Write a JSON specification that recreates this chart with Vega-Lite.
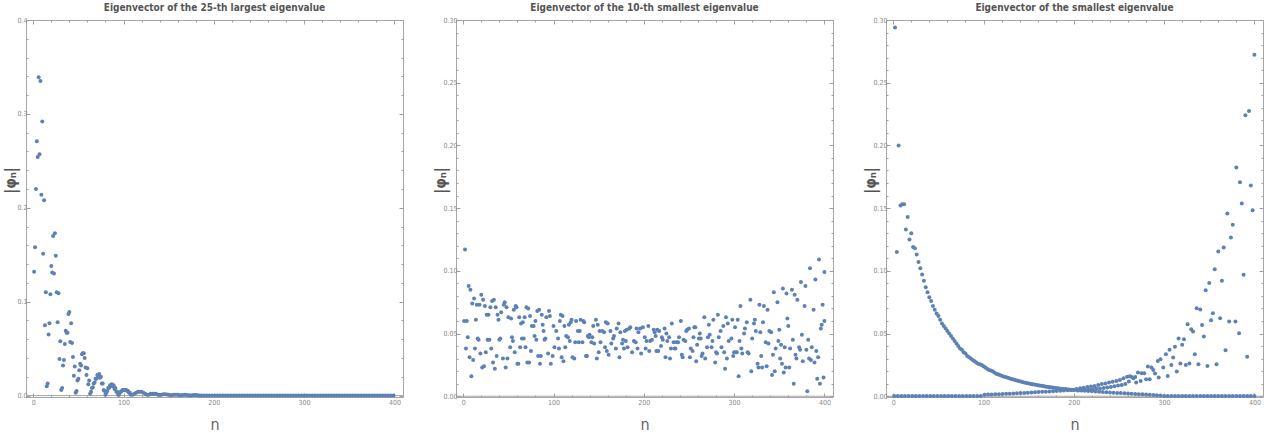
{
"$schema":"https://vega.github.io/schema/vega-lite/v6.json",
"padding":{"left":2,"top":2,"right":6,"bottom":2},
"background":"white",
"config":{
 "view":{"stroke":"#a6a6a6","strokeWidth":1},
 "axis":{"domain":false,"grid":false,"tickColor":"#a0a0a0","labelColor":"#8a8a8a","labelFont":"DejaVu Sans Condensed, DejaVu Sans, sans-serif","labelFontSize":7,"labelOverlap":false,"labelFlush":false,"titleColor":"#555555","titleFont":"DejaVu Sans Condensed, DejaVu Sans, sans-serif"},
 "title":{"font":"DejaVu Sans Condensed, DejaVu Sans, sans-serif","fontSize":10,"fontWeight":"bold","color":"#555555","frame":"group","offset":3}
},
"datasets":{
"a":[{"n":1,"v":0.132},{"n":2,"v":0.158},{"n":3,"v":0.22},{"n":4,"v":0.271},{"n":5,"v":0.254},{"n":6,"v":0.339},{"n":7,"v":0.257},{"n":8,"v":0.335},{"n":9,"v":0.214},{"n":10,"v":0.292},{"n":11,"v":0.151},{"n":12,"v":0.208},{"n":13,"v":0.075},{"n":14,"v":0.11},{"n":15,"v":0.01},{"n":16,"v":0.013},{"n":17,"v":0.065},{"n":18,"v":0.077},{"n":19,"v":0.108},{"n":20,"v":0.138},{"n":21,"v":0.131},{"n":22,"v":0.17},{"n":23,"v":0.13},{"n":24,"v":0.173},{"n":25,"v":0.149},{"n":26,"v":0.11},{"n":27,"v":0.078},{"n":28,"v":0.109},{"n":29,"v":0.039},{"n":30,"v":0.058},{"n":31,"v":0.006},{"n":32,"v":0.008},{"n":33,"v":0.032},{"n":34,"v":0.038},{"n":35,"v":0.055},{"n":36,"v":0.069},{"n":37,"v":0.067},{"n":38,"v":0.067},{"n":39,"v":0.087},{"n":40,"v":0.089},{"n":41,"v":0.057},{"n":42,"v":0.077},{"n":43,"v":0.056},{"n":44,"v":0.041},{"n":45,"v":0.021},{"n":46,"v":0.031},{"n":47,"v":0.003},{"n":48,"v":0.005},{"n":49,"v":0.016},{"n":50,"v":0.018},{"n":51,"v":0.027},{"n":52,"v":0.034},{"n":53,"v":0.032},{"n":54,"v":0.044},{"n":55,"v":0.045},{"n":56,"v":0.045},{"n":57,"v":0.04},{"n":58,"v":0.03},{"n":59,"v":0.022},{"n":60,"v":0.029},{"n":61,"v":0.012},{"n":62,"v":0.016},{"n":63,"v":0.002},
{"n":64,"v":0.004},{"n":65,"v":0.008},{"n":66,"v":0.009},{"n":67,"v":0.013},{"n":68,"v":0.014},{"n":69,"v":0.018},{"n":70,"v":0.018},{"n":71,"v":0.022},{"n":72,"v":0.02},{"n":73,"v":0.023},{"n":74,"v":0.019},{"n":75,"v":0.02},{"n":76,"v":0.013},{"n":77,"v":0.013},{"n":78,"v":0.006},{"n":79,"v":0.005},{"n":80,"v":0.001},{"n":81,"v":0.003},{"n":82,"v":0.005},{"n":83,"v":0.008},{"n":84,"v":0.008},{"n":85,"v":0.011},{"n":86,"v":0.01},{"n":87,"v":0.012},{"n":88,"v":0.01},{"n":89,"v":0.011},{"n":90,"v":0.007},{"n":91,"v":0.008},{"n":92,"v":0.004},{"n":93,"v":0.004},{"n":94,"v":0.001},{"n":95,"v":0.001},{"n":96,"v":0.003},{"n":97,"v":0.004},{"n":98,"v":0.005},{"n":99,"v":0.006},{"n":100,"v":0.006},{"n":101,"v":0.006},{"n":102,"v":0.006},{"n":103,"v":0.006},{"n":104,"v":0.005},{"n":105,"v":0.005},{"n":106,"v":0.003},{"n":107,"v":0.003},{"n":108,"v":0.001},{"n":110,"v":0.001},{"n":112,"v":0.002},{"n":114,"v":0.003},{"n":116,"v":0.004},{"n":118,"v":0.004},{"n":120,"v":0.004},{"n":122,"v":0.003},{"n":124,"v":0.002},{"n":126,"v":0.001},{"n":128,"v":0.001},{"n":130,"v":0.002},{"n":132,"v":0.002},{"n":134,"v":0.002},{"n":136,"v":0.002},{"n":138,"v":0.001},{"n":140,"v":0.0005},{"n":142,"v":0.001},{"n":144,"v":0.0015},{"n":146,"v":0.0015},{"n":148,"v":0.0012},{"n":150,"v":0.0008},{"n":152,"v":0.0004},{"n":154,"v":0.0006},{"n":156,"v":0.001},{"n":158,"v":0.001},{"n":160,"v":0.0008},{"n":162,"v":0.0004},{"n":164,"v":0.0003},{"n":166,"v":0.0006},{"n":168,"v":0.0008},{"n":170,"v":0.0007},{"n":172,"v":0.0004},{"n":174,"v":0.0002},{"n":176,"v":0.0004},{"n":178,"v":0.0006},{"n":180,"v":0.0006},{"n":182,"v":0.0004},{"n":184,"v":0.0002},
{"n":186,"v":0.0002},{"n":189,"v":0.0002},{"n":192,"v":0.0002},{"n":195,"v":0.0002},{"n":198,"v":0.0002},{"n":201,"v":0.0002},{"n":204,"v":0.0002},{"n":207,"v":0.0002},{"n":210,"v":0.0002},{"n":213,"v":0.0002},{"n":216,"v":0.0002},{"n":219,"v":0.0002},{"n":222,"v":0.0002},{"n":225,"v":0.0002},{"n":228,"v":0.0002},{"n":231,"v":0.0002},{"n":234,"v":0.0002},{"n":237,"v":0.0002},{"n":240,"v":0.0002},{"n":243,"v":0.0002},{"n":246,"v":0.0002},{"n":249,"v":0.0002},{"n":252,"v":0.0002},{"n":255,"v":0.0002},{"n":258,"v":0.0002},{"n":261,"v":0.0002},{"n":264,"v":0.0002},{"n":267,"v":0.0002},{"n":270,"v":0.0002},{"n":273,"v":0.0002},{"n":276,"v":0.0002},{"n":279,"v":0.0002},{"n":282,"v":0.0002},{"n":285,"v":0.0002},{"n":288,"v":0.0002},{"n":291,"v":0.0002},{"n":294,"v":0.0002},{"n":297,"v":0.0002},{"n":300,"v":0.0002},{"n":303,"v":0.0002},{"n":306,"v":0.0002},{"n":309,"v":0.0002},{"n":312,"v":0.0002},{"n":315,"v":0.0002},{"n":318,"v":0.0002},{"n":321,"v":0.0002},{"n":324,"v":0.0002},{"n":327,"v":0.0002},{"n":330,"v":0.0002},{"n":333,"v":0.0002},{"n":336,"v":0.0002},{"n":339,"v":0.0002},{"n":342,"v":0.0002},{"n":345,"v":0.0002},{"n":348,"v":0.0002},{"n":351,"v":0.0002},{"n":354,"v":0.0002},{"n":357,"v":0.0002},{"n":360,"v":0.0002},{"n":363,"v":0.0002},{"n":366,"v":0.0002},{"n":369,"v":0.0002},{"n":372,"v":0.0002},{"n":375,"v":0.0002},{"n":378,"v":0.0002},{"n":381,"v":0.0002},{"n":384,"v":0.0002},{"n":387,"v":0.0002},{"n":390,"v":0.0002},{"n":393,"v":0.0002},{"n":396,"v":0.0002},{"n":399,"v":0.0002}],
"b":[{"n":1,"v":0.06},{"n":2,"v":0.117},{"n":3,"v":0.038},{"n":4,"v":0.06},{"n":5,"v":0.047},{"n":6,"v":0.088},{"n":7,"v":0.031},{"n":8,"v":0.085},{"n":9,"v":0.016},{"n":10,"v":0.074},{"n":11,"v":0.029},{"n":12,"v":0.078},{"n":13,"v":0.038},{"n":14,"v":0.061},{"n":15,"v":0.073},{"n":16,"v":0.046},{"n":17,"v":0.045},{"n":18,"v":0.073},{"n":19,"v":0.034},{"n":20,"v":0.081},{"n":21,"v":0.023},{"n":22,"v":0.077},{"n":23,"v":0.024},{"n":24,"v":0.072},{"n":25,"v":0.035},{"n":26,"v":0.065},{"n":27,"v":0.045},{"n":28,"v":0.065},{"n":29,"v":0.045},{"n":30,"v":0.071},{"n":31,"v":0.038},{"n":32,"v":0.076},{"n":33,"v":0.027},{"n":34,"v":0.077},{"n":35,"v":0.022},{"n":36,"v":0.071},{"n":37,"v":0.032},{"n":38,"v":0.065},{"n":39,"v":0.061},{"n":40,"v":0.045},{"n":41,"v":0.046},{"n":42,"v":0.067},{"n":44,"v":0.03},{"n":45,"v":0.073},{"n":46,"v":0.075},{"n":47,"v":0.023},{"n":48,"v":0.071},{"n":49,"v":0.03},{"n":50,"v":0.063},{"n":52,"v":0.039},{"n":53,"v":0.062},{"n":54,"v":0.047},{"n":55,"v":0.044},{"n":56,"v":0.069},{"n":57,"v":0.035},{"n":58,"v":0.072},{"n":59,"v":0.071},{"n":60,"v":0.026},{"n":61,"v":0.026},{"n":62,"v":0.063},{"n":63,"v":0.039},{"n":64,"v":0.058},{"n":65,"v":0.046},{"n":66,"v":0.059},{"n":67,"v":0.046},{"n":68,"v":0.063},{"n":69,"v":0.039},{"n":70,"v":0.071},{"n":71,"v":0.027},{"n":72,"v":0.07},{"n":73,"v":0.027},{"n":74,"v":0.064},{"n":75,"v":0.036},{"n":76,"v":0.056},{"n":78,"v":0.056},{"n":79,"v":0.048},{"n":80,"v":0.06},{"n":81,"v":0.045},{"n":82,"v":0.068},{"n":83,"v":0.032},{"n":84,"v":0.069},{"n":85,"v":0.026},{"n":86,"v":0.032},{"n":87,"v":0.065},{"n":88,"v":0.057},{"n":89,"v":0.052},{"n":90,"v":0.045},{"n":91,"v":0.046},{"n":92,"v":0.063},{"n":94,"v":0.034},{"n":95,"v":0.068},{"n":96,"v":0.064},{"n":97,"v":0.026},{"n":99,"v":0.032},{"n":100,"v":0.056},{"n":101,"v":0.039},{"n":103,"v":0.052},{"n":105,"v":0.046},{"n":106,"v":0.038},{"n":107,"v":0.06},{"n":108,"v":0.065},{"n":109,"v":0.031},{"n":110,"v":0.064},{"n":111,"v":0.028},{"n":112,"v":0.056},{"n":113,"v":0.039},{"n":114,"v":0.048},{"n":116,"v":0.047},{"n":117,"v":0.057},{"n":118,"v":0.044},{"n":119,"v":0.059},{"n":120,"v":0.061},{"n":121,"v":0.031},{"n":123,"v":0.03},{"n":124,"v":0.043},{"n":125,"v":0.06},{"n":127,"v":0.052},{"n":128,"v":0.043},{"n":129,"v":0.052},{"n":130,"v":0.061},{"n":132,"v":0.043},{"n":133,"v":0.06},{"n":134,"v":0.059},{"n":136,"v":0.032},{"n":137,"v":0.032},{"n":138,"v":0.048},{"n":139,"v":0.047},{"n":140,"v":0.049},{"n":142,"v":0.043},{"n":143,"v":0.047},{"n":144,"v":0.056},{"n":145,"v":0.042},{"n":147,"v":0.061},{"n":148,"v":0.03},{"n":149,"v":0.057},{"n":150,"v":0.035},{"n":151,"v":0.052},{"n":152,"v":0.043},{"n":154,"v":0.052},{"n":156,"v":0.051},{"n":157,"v":0.039},{"n":158,"v":0.059},{"n":159,"v":0.036},{"n":160,"v":0.058},{"n":161,"v":0.033},{"n":163,"v":0.052},{"n":164,"v":0.042},{"n":166,"v":0.046},{"n":167,"v":0.048},{"n":169,"v":0.038},{"n":170,"v":0.054},{"n":172,"v":0.058},{"n":173,"v":0.031},{"n":174,"v":0.051},{"n":176,"v":0.042},{"n":177,"v":0.045},{"n":178,"v":0.038},{"n":179,"v":0.052},{"n":180,"v":0.044},{"n":181,"v":0.053},{"n":182,"v":0.039},{"n":184,"v":0.054},{"n":185,"v":0.055},{"n":187,"v":0.035},{"n":189,"v":0.044},{"n":191,"v":0.043},{"n":192,"v":0.054},{"n":193,"v":0.038},{"n":194,"v":0.051},{"n":196,"v":0.054},{"n":197,"v":0.034},{"n":199,"v":0.055},{"n":201,"v":0.047},{"n":202,"v":0.038},{"n":203,"v":0.044},{"n":205,"v":0.056},{"n":206,"v":0.036},{"n":207,"v":0.044},{"n":209,"v":0.045},{"n":211,"v":0.053},{"n":212,"v":0.051},{"n":213,"v":0.048},{"n":214,"v":0.036},{"n":215,"v":0.053},{"n":216,"v":0.036},{"n":217,"v":0.052},{"n":219,"v":0.04},{"n":220,"v":0.047},{"n":221,"v":0.045},{"n":223,"v":0.054},{"n":224,"v":0.031},{"n":225,"v":0.05},{"n":226,"v":0.044},{"n":228,"v":0.047},{"n":229,"v":0.03},{"n":230,"v":0.038},{"n":231,"v":0.058},{"n":233,"v":0.043},{"n":234,"v":0.038},{"n":235,"v":0.038},{"n":236,"v":0.043},{"n":238,"v":0.043},{"n":239,"v":0.047},{"n":241,"v":0.06},{"n":242,"v":0.033},{"n":243,"v":0.031},{"n":244,"v":0.045},{"n":246,"v":0.044},{"n":247,"v":0.052},{"n":248,"v":0.053},{"n":250,"v":0.054},{"n":251,"v":0.031},{"n":252,"v":0.038},{"n":254,"v":0.036},{"n":255,"v":0.047},{"n":256,"v":0.055},{"n":257,"v":0.055},{"n":258,"v":0.028},{"n":259,"v":0.041},{"n":261,"v":0.046},{"n":262,"v":0.05},{"n":263,"v":0.046},{"n":264,"v":0.032},{"n":265,"v":0.034},{"n":267,"v":0.063},{"n":268,"v":0.03},{"n":270,"v":0.039},{"n":271,"v":0.047},{"n":272,"v":0.057},{"n":273,"v":0.049},{"n":275,"v":0.039},{"n":276,"v":0.044},{"n":277,"v":0.061},{"n":279,"v":0.027},{"n":280,"v":0.035},{"n":281,"v":0.034},{"n":282,"v":0.065},{"n":283,"v":0.047},{"n":285,"v":0.052},{"n":286,"v":0.039},{"n":288,"v":0.056},{"n":289,"v":0.035},{"n":290,"v":0.022},{"n":291,"v":0.063},{"n":292,"v":0.03},{"n":293,"v":0.058},{"n":294,"v":0.044},{"n":297,"v":0.046},{"n":298,"v":0.061},{"n":299,"v":0.032},{"n":300,"v":0.035},{"n":301,"v":0.055},{"n":302,"v":0.035},{"n":303,"v":0.035},{"n":304,"v":0.061},{"n":305,"v":0.016},{"n":306,"v":0.044},{"n":307,"v":0.072},{"n":308,"v":0.038},{"n":309,"v":0.034},{"n":311,"v":0.05},{"n":312,"v":0.054},{"n":314,"v":0.059},{"n":315,"v":0.035},{"n":316,"v":0.034},{"n":318,"v":0.077},{"n":319,"v":0.02},{"n":320,"v":0.046},{"n":322,"v":0.058},{"n":323,"v":0.061},{"n":324,"v":0.052},{"n":326,"v":0.026},{"n":327,"v":0.023},{"n":328,"v":0.073},{"n":329,"v":0.051},{"n":330,"v":0.032},{"n":331,"v":0.023},{"n":332,"v":0.059},{"n":333,"v":0.072},{"n":335,"v":0.043},{"n":336,"v":0.024},{"n":337,"v":0.069},{"n":338,"v":0.042},{"n":339,"v":0.052},{"n":341,"v":0.051},{"n":342,"v":0.017},{"n":343,"v":0.033},{"n":344,"v":0.083},{"n":345,"v":0.02},{"n":346,"v":0.038},{"n":348,"v":0.075},{"n":349,"v":0.044},{"n":350,"v":0.053},{"n":351,"v":0.03},{"n":352,"v":0.041},{"n":353,"v":0.026},{"n":354,"v":0.086},{"n":355,"v":0.019},{"n":356,"v":0.039},{"n":357,"v":0.023},{"n":358,"v":0.082},{"n":359,"v":0.062},{"n":360,"v":0.056},{"n":361,"v":0.023},{"n":362,"v":0.038},{"n":364,"v":0.085},{"n":365,"v":0.045},{"n":366,"v":0.01},{"n":367,"v":0.081},{"n":368,"v":0.033},{"n":369,"v":0.03},{"n":370,"v":0.077},{"n":372,"v":0.039},{"n":373,"v":0.037},{"n":374,"v":0.091},{"n":375,"v":0.049},{"n":376,"v":0.028},{"n":378,"v":0.072},{"n":379,"v":0.088},{"n":380,"v":0.037},{"n":381,"v":0.004},{"n":382,"v":0.045},{"n":383,"v":0.03},{"n":384,"v":0.102},{"n":385,"v":0.029},{"n":386,"v":0.039},{"n":388,"v":0.069},{"n":389,"v":0.027},{"n":390,"v":0.093},{"n":391,"v":0.036},{"n":392,"v":0.014},{"n":393,"v":0.031},{"n":394,"v":0.109},{"n":395,"v":0.01},{"n":396,"v":0.054},{"n":397,"v":0.057},{"n":398,"v":0.073},{"n":399,"v":0.015},{"n":400,"v":0.099},{"n":400,"v":0.06}],
"c":[{"n":2,"v":0.294},{"n":4,"v":0.115},{"n":6,"v":0.2},{"n":8,"v":0.152},{"n":10,"v":0.153},{"n":12,"v":0.153},{"n":14,"v":0.133},{"n":16,"v":0.143},{"n":18,"v":0.125},{"n":20,"v":0.13},{"n":22,"v":0.119},{"n":24,"v":0.118},{"n":26,"v":0.113},{"n":28,"v":0.107},{"n":30,"v":0.102},{"n":32,"v":0.097},{"n":34,"v":0.092},{"n":36,"v":0.087},{"n":38,"v":0.083},{"n":40,"v":0.079},{"n":42,"v":0.076},{"n":44,"v":0.072},{"n":46,"v":0.069},{"n":48,"v":0.066},{"n":50,"v":0.064},{"n":52,"v":0.061},{"n":54,"v":0.058},{"n":56,"v":0.056},{"n":58,"v":0.054},{"n":60,"v":0.052},{"n":62,"v":0.05},{"n":64,"v":0.048},{"n":66,"v":0.046},{"n":68,"v":0.044},{"n":70,"v":0.042},{"n":72,"v":0.04},{"n":74,"v":0.038},{"n":76,"v":0.037},{"n":78,"v":0.035},{"n":80,"v":0.034},{"n":82,"v":0.032},{"n":84,"v":0.031},{"n":86,"v":0.03},{"n":88,"v":0.029},{"n":90,"v":0.028},{"n":92,"v":0.027},{"n":94,"v":0.026},{"n":96,"v":0.0255},{"n":98,"v":0.025},{"n":100,"v":0.024},{"n":102,"v":0.023},{"n":104,"v":0.022},{"n":106,"v":0.021},{"n":108,"v":0.0205},{"n":110,"v":0.02},{"n":112,"v":0.019},{"n":114,"v":0.018},{"n":116,"v":0.0175},{"n":118,"v":0.017},{"n":120,"v":0.0163},{"n":122,"v":0.0158},{"n":124,"v":0.0154},{"n":126,"v":0.015},{"n":128,"v":0.0145},{"n":130,"v":0.014},{"n":132,"v":0.0136},{"n":134,"v":0.0132},{"n":136,"v":0.0127},{"n":138,"v":0.0123},{"n":140,"v":0.012},{"n":142,"v":0.0116},{"n":144,"v":0.0112},{"n":146,"v":0.0108},{"n":148,"v":0.0105},{"n":150,"v":0.0102},{"n":152,"v":0.0099},{"n":154,"v":0.0096},{"n":156,"v":0.0093},{"n":158,"v":0.0091},{"n":160,"v":0.0088},{"n":162,"v":0.0086},{"n":164,"v":0.0083},{"n":166,"v":0.0081},{"n":168,"v":0.0078},{"n":170,"v":0.0076},{"n":172,"v":0.0074},{"n":174,"v":0.0072},{"n":176,"v":0.007},{"n":178,"v":0.0068},{"n":180,"v":0.0066},{"n":182,"v":0.0063},{"n":184,"v":0.0061},{"n":186,"v":0.006},{"n":188,"v":0.0058},{"n":190,"v":0.0057},{"n":192,"v":0.0055},{"n":194,"v":0.0054},{"n":196,"v":0.0052},{"n":198,"v":0.0051},{"n":200,"v":0.005},{"n":204,"v":0.0048},{"n":208,"v":0.0046},{"n":212,"v":0.0044},{"n":216,"v":0.0042},{"n":220,"v":0.004},{"n":224,"v":0.0038},{"n":228,"v":0.0036},{"n":232,"v":0.0034},{"n":236,"v":0.0032},{"n":240,"v":0.003},{"n":244,"v":0.0028},{"n":248,"v":0.0026},{"n":252,"v":0.0025},{"n":256,"v":0.0023},{"n":260,"v":0.0022},{"n":264,"v":0.002},{"n":268,"v":0.0018},{"n":272,"v":0.0016},{"n":276,"v":0.0015},{"n":280,"v":0.0013},{"n":284,"v":0.0012},{"n":288,"v":0.001},{"n":292,"v":0.0008},{"n":296,"v":0.0006},{"n":300,"v":0.0002},{"n":304,"v":0.0002},{"n":308,"v":0.0002},{"n":312,"v":0.0002},{"n":316,"v":0.0002},{"n":320,"v":0.0002},{"n":324,"v":0.0002},{"n":328,"v":0.0002},{"n":332,"v":0.0002},{"n":336,"v":0.0002},{"n":340,"v":0.0002},{"n":344,"v":0.0002},{"n":348,"v":0.0002},{"n":352,"v":0.0002},{"n":356,"v":0.0002},{"n":360,"v":0.0002},{"n":364,"v":0.0002},{"n":368,"v":0.0002},{"n":372,"v":0.0002},{"n":376,"v":0.0002},{"n":380,"v":0.0002},{"n":384,"v":0.0002},{"n":388,"v":0.0002},{"n":392,"v":0.0002},{"n":396,"v":0.0002},{"n":400,"v":0.0002},
{"n":1,"v":0.0002},{"n":5,"v":0.0002},{"n":9,"v":0.0002},{"n":13,"v":0.0002},{"n":17,"v":0.0002},{"n":21,"v":0.0002},{"n":25,"v":0.0002},{"n":29,"v":0.0002},{"n":33,"v":0.0002},{"n":37,"v":0.0002},{"n":41,"v":0.0002},{"n":45,"v":0.0002},{"n":49,"v":0.0002},{"n":53,"v":0.0002},{"n":57,"v":0.0002},{"n":61,"v":0.0002},{"n":65,"v":0.0002},{"n":69,"v":0.0002},{"n":73,"v":0.0002},{"n":77,"v":0.0002},{"n":81,"v":0.0002},{"n":85,"v":0.0002},{"n":89,"v":0.0002},{"n":93,"v":0.0002},{"n":97,"v":0.0002},{"n":101,"v":0.0012},{"n":105,"v":0.0013},{"n":109,"v":0.0014},{"n":113,"v":0.0015},{"n":117,"v":0.0016},{"n":121,"v":0.0018},{"n":125,"v":0.0019},{"n":129,"v":0.002},{"n":133,"v":0.0022},{"n":137,"v":0.0023},{"n":141,"v":0.0025},{"n":145,"v":0.0026},{"n":149,"v":0.0028},{"n":153,"v":0.003},{"n":157,"v":0.0031},{"n":161,"v":0.0033},{"n":165,"v":0.0035},{"n":169,"v":0.0036},{"n":173,"v":0.0038},{"n":177,"v":0.004},{"n":181,"v":0.0042},{"n":185,"v":0.0043},{"n":189,"v":0.0045},{"n":193,"v":0.0047},{"n":197,"v":0.0049},{"n":201,"v":0.0052},{"n":203,"v":0.0058},{"n":205,"v":0.0046},{"n":207,"v":0.0064},{"n":209,"v":0.0048},{"n":211,"v":0.0068},{"n":213,"v":0.005},{"n":215,"v":0.0074},{"n":217,"v":0.0052},{"n":219,"v":0.0078},{"n":221,"v":0.0056},{"n":223,"v":0.0082},{"n":225,"v":0.006},{"n":227,"v":0.009},{"n":229,"v":0.0062},{"n":231,"v":0.0098},{"n":233,"v":0.0066},{"n":235,"v":0.0102},{"n":237,"v":0.007},{"n":239,"v":0.0109},{"n":241,"v":0.0074},{"n":243,"v":0.0115},{"n":245,"v":0.008},{"n":247,"v":0.0122},{"n":249,"v":0.0085},{"n":251,"v":0.013},{"n":253,"v":0.009},{"n":255,"v":0.0144},{"n":257,"v":0.0098},{"n":259,"v":0.0155},{"n":261,"v":0.0117},
{"n":262,"v":0.016},{"n":264,"v":0.0154},{"n":266,"v":0.0144},{"n":268,"v":0.0154},{"n":269,"v":0.0109},{"n":271,"v":0.0189},{"n":274,"v":0.0122},{"n":275,"v":0.0184},{"n":278,"v":0.0184},{"n":280,"v":0.0136},{"n":282,"v":0.0237},{"n":284,"v":0.0136},{"n":286,"v":0.0229},{"n":288,"v":0.021},{"n":290,"v":0.0181},{"n":293,"v":0.0282},{"n":294,"v":0.0149},{"n":296,"v":0.0295},{"n":299,"v":0.0229},{"n":302,"v":0.0335},{"n":304,"v":0.0162},{"n":306,"v":0.037},{"n":308,"v":0.025},{"n":310,"v":0.0309},{"n":312,"v":0.0394},{"n":314,"v":0.0197},{"n":316,"v":0.046},{"n":318,"v":0.0261},{"n":320,"v":0.041},{"n":322,"v":0.0455},{"n":324,"v":0.025},{"n":326,"v":0.0574},{"n":328,"v":0.0261},{"n":330,"v":0.0535},{"n":332,"v":0.0516},{"n":334,"v":0.0335},{"n":336,"v":0.0702},{"n":338,"v":0.0255},{"n":340,"v":0.0691},{"n":342,"v":0.0569},{"n":344,"v":0.0476},{"n":346,"v":0.0846},{"n":348,"v":0.0242},{"n":350,"v":0.0902},{"n":352,"v":0.0606},{"n":354,"v":0.0662},{"n":356,"v":0.1013},{"n":358,"v":0.0255},{"n":360,"v":0.1154},{"n":362,"v":0.0622},{"n":364,"v":0.092},{"n":366,"v":0.1186},{"n":368,"v":0.0367},{"n":370,"v":0.1457},{"n":372,"v":0.0596},{"n":374,"v":0.1266},{"n":376,"v":0.1367},{"n":379,"v":0.0596},{"n":380,"v":0.1824},{"n":383,"v":0.0503},{"n":384,"v":0.1707},{"n":386,"v":0.1537},{"n":388,"v":0.0968},{"n":390,"v":0.224},{"n":392,"v":0.0314},{"n":394,"v":0.2274},{"n":396,"v":0.168},{"n":398,"v":0.1484},{"n":400,"v":0.2723}]
},
"hconcat":[
{"width":377,"height":377,"title":"Eigenvector of the 25-th largest eigenvalue",
 "resolve":{"axis":{"x":"independent","y":"independent"}},
 "layer":[
  {"data":{"values":[{"z":0}]},"mark":{"type":"rule","color":"#a6a6a6","strokeWidth":1},"encoding":{"y":{"field":"z","type":"quantitative","axis":null,"scale":{"domain":[-0.0015,0.4],"nice":false,"zero":false}}}},
  {"data":{"name":"a"},"mark":{"type":"circle","size":16,"color":"#5E81B5","opacity":1},
   "encoding":{
    "x":{"field":"n","type":"quantitative","scale":{"domain":[-8,409.5],"nice":false,"zero":false},
      "axis":{"orient":"bottom","values":[0,20,40,60,80,100,120,140,160,180,200,220,240,260,280,300,320,340,360,380,400],"labelExpr":"datum.value % 100 === 0 ? datum.label : ''","tickSize":{"condition":{"test":"datum.value % 100 === 0","value":-4},"value":-2},"labelPadding":5,"title":"n","titleFontSize":16,"titlePadding":9,"titleFontWeight":"normal","titleColor":"#666666"}},
    "y":{"field":"v","type":"quantitative","scale":{"domain":[-0.0015,0.4],"nice":false,"zero":false},
      "axis":{"orient":"left","values":[0,0.02,0.04,0.06,0.08,0.1,0.12,0.14,0.16,0.18,0.2,0.22,0.24,0.26,0.28,0.3,0.32,0.34,0.36,0.38,0.4],"labelExpr":"abs(datum.value*10-round(datum.value*10))<1e-6 ? format(datum.value,'.1f') : ''","tickSize":{"condition":{"test":"abs(datum.value*10-round(datum.value*10))<1e-6","value":-4},"value":-2},"labelPadding":3,"title":"|φₙ|","titleFontSize":15,"titleFontWeight":"bold","titleY":160,"titleX":-8}}}},
  {"data":{"name":"a"},"mark":{"type":"circle","opacity":0},
   "encoding":{
    "x":{"field":"n","type":"quantitative","scale":{"domain":[-8,409.5],"nice":false,"zero":false},
      "axis":{"orient":"top","values":[0,20,40,60,80,100,120,140,160,180,200,220,240,260,280,300,320,340,360,380,400],"labels":false,"tickSize":{"condition":{"test":"datum.value % 100 === 0","value":-4},"value":-2},"title":null}},
    "y":{"field":"v","type":"quantitative","scale":{"domain":[-0.0015,0.4],"nice":false,"zero":false},
      "axis":{"orient":"right","values":[0,0.02,0.04,0.06,0.08,0.1,0.12,0.14,0.16,0.18,0.2,0.22,0.24,0.26,0.28,0.3,0.32,0.34,0.36,0.38,0.4],"labels":false,"tickSize":{"condition":{"test":"abs(datum.value*10-round(datum.value*10))<1e-6","value":-4},"value":-2},"title":null}}}}
 ]},
{"width":377,"height":377,"title":"Eigenvector of the 10-th smallest eigenvalue",
 "resolve":{"axis":{"x":"independent","y":"independent"}},
 "layer":[
  {"data":{"values":[{"z":0}]},"mark":{"type":"rule","color":"#a6a6a6","strokeWidth":1},"encoding":{"y":{"field":"z","type":"quantitative","axis":null,"scale":{"domain":[-0.0006,0.3],"nice":false,"zero":false}}}},
  {"data":{"name":"b"},"mark":{"type":"circle","size":16,"color":"#5E81B5","opacity":1},
   "encoding":{
    "x":{"field":"n","type":"quantitative","scale":{"domain":[-8,409.5],"nice":false,"zero":false},
      "axis":{"orient":"bottom","values":[0,20,40,60,80,100,120,140,160,180,200,220,240,260,280,300,320,340,360,380,400],"labelExpr":"datum.value % 100 === 0 ? datum.label : ''","tickSize":{"condition":{"test":"datum.value % 100 === 0","value":-4},"value":-2},"labelPadding":5,"title":"n","titleFontSize":16,"titlePadding":9,"titleFontWeight":"normal","titleColor":"#666666"}},
    "y":{"field":"v","type":"quantitative","scale":{"domain":[-0.0006,0.3],"nice":false,"zero":false},
      "axis":{"orient":"left","values":[0,0.01,0.02,0.03,0.04,0.05,0.06,0.07,0.08,0.09,0.1,0.11,0.12,0.13,0.14,0.15,0.16,0.17,0.18,0.19,0.2,0.21,0.22,0.23,0.24,0.25,0.26,0.27,0.28,0.29,0.3],"labelExpr":"abs(datum.value*20-round(datum.value*20))<1e-6 ? format(datum.value,'.2f') : ''","tickSize":{"condition":{"test":"abs(datum.value*20-round(datum.value*20))<1e-6","value":-4},"value":-2},"labelPadding":3,"title":"|φₙ|","titleFontSize":15,"titleFontWeight":"bold","titleY":160,"titleX":-8}}}},
  {"data":{"name":"b"},"mark":{"type":"circle","opacity":0},
   "encoding":{
    "x":{"field":"n","type":"quantitative","scale":{"domain":[-8,409.5],"nice":false,"zero":false},
      "axis":{"orient":"top","values":[0,20,40,60,80,100,120,140,160,180,200,220,240,260,280,300,320,340,360,380,400],"labels":false,"tickSize":{"condition":{"test":"datum.value % 100 === 0","value":-4},"value":-2},"title":null}},
    "y":{"field":"v","type":"quantitative","scale":{"domain":[-0.0006,0.3],"nice":false,"zero":false},
      "axis":{"orient":"right","values":[0,0.01,0.02,0.03,0.04,0.05,0.06,0.07,0.08,0.09,0.1,0.11,0.12,0.13,0.14,0.15,0.16,0.17,0.18,0.19,0.2,0.21,0.22,0.23,0.24,0.25,0.26,0.27,0.28,0.29,0.3],"labels":false,"tickSize":{"condition":{"test":"abs(datum.value*20-round(datum.value*20))<1e-6","value":-4},"value":-2},"title":null}}}}
 ]},
{"width":377,"height":377,"title":"Eigenvector of the smallest eigenvalue",
 "resolve":{"axis":{"x":"independent","y":"independent"}},
 "layer":[
  {"data":{"values":[{"z":0}]},"mark":{"type":"rule","color":"#a6a6a6","strokeWidth":1},"encoding":{"y":{"field":"z","type":"quantitative","axis":null,"scale":{"domain":[-0.0006,0.3],"nice":false,"zero":false}}}},
  {"data":{"name":"c"},"mark":{"type":"circle","size":16,"color":"#5E81B5","opacity":1},
   "encoding":{
    "x":{"field":"n","type":"quantitative","scale":{"domain":[-8,409.5],"nice":false,"zero":false},
      "axis":{"orient":"bottom","values":[0,20,40,60,80,100,120,140,160,180,200,220,240,260,280,300,320,340,360,380,400],"labelExpr":"datum.value % 100 === 0 ? datum.label : ''","tickSize":{"condition":{"test":"datum.value % 100 === 0","value":-4},"value":-2},"labelPadding":5,"title":"n","titleFontSize":16,"titlePadding":9,"titleFontWeight":"normal","titleColor":"#666666"}},
    "y":{"field":"v","type":"quantitative","scale":{"domain":[-0.0006,0.3],"nice":false,"zero":false},
      "axis":{"orient":"left","values":[0,0.01,0.02,0.03,0.04,0.05,0.06,0.07,0.08,0.09,0.1,0.11,0.12,0.13,0.14,0.15,0.16,0.17,0.18,0.19,0.2,0.21,0.22,0.23,0.24,0.25,0.26,0.27,0.28,0.29,0.3],"labelExpr":"abs(datum.value*20-round(datum.value*20))<1e-6 ? format(datum.value,'.2f') : ''","tickSize":{"condition":{"test":"abs(datum.value*20-round(datum.value*20))<1e-6","value":-4},"value":-2},"labelPadding":3,"title":"|φₙ|","titleFontSize":15,"titleFontWeight":"bold","titleY":160,"titleX":-8}}}},
  {"data":{"name":"c"},"mark":{"type":"circle","opacity":0},
   "encoding":{
    "x":{"field":"n","type":"quantitative","scale":{"domain":[-8,409.5],"nice":false,"zero":false},
      "axis":{"orient":"top","values":[0,20,40,60,80,100,120,140,160,180,200,220,240,260,280,300,320,340,360,380,400],"labels":false,"tickSize":{"condition":{"test":"datum.value % 100 === 0","value":-4},"value":-2},"title":null}},
    "y":{"field":"v","type":"quantitative","scale":{"domain":[-0.0006,0.3],"nice":false,"zero":false},
      "axis":{"orient":"right","values":[0,0.01,0.02,0.03,0.04,0.05,0.06,0.07,0.08,0.09,0.1,0.11,0.12,0.13,0.14,0.15,0.16,0.17,0.18,0.19,0.2,0.21,0.22,0.23,0.24,0.25,0.26,0.27,0.28,0.29,0.3],"labels":false,"tickSize":{"condition":{"test":"abs(datum.value*20-round(datum.value*20))<1e-6","value":-4},"value":-2},"title":null}}}}
 ]}
],
"spacing":53,
"bounds":"flush"
}
